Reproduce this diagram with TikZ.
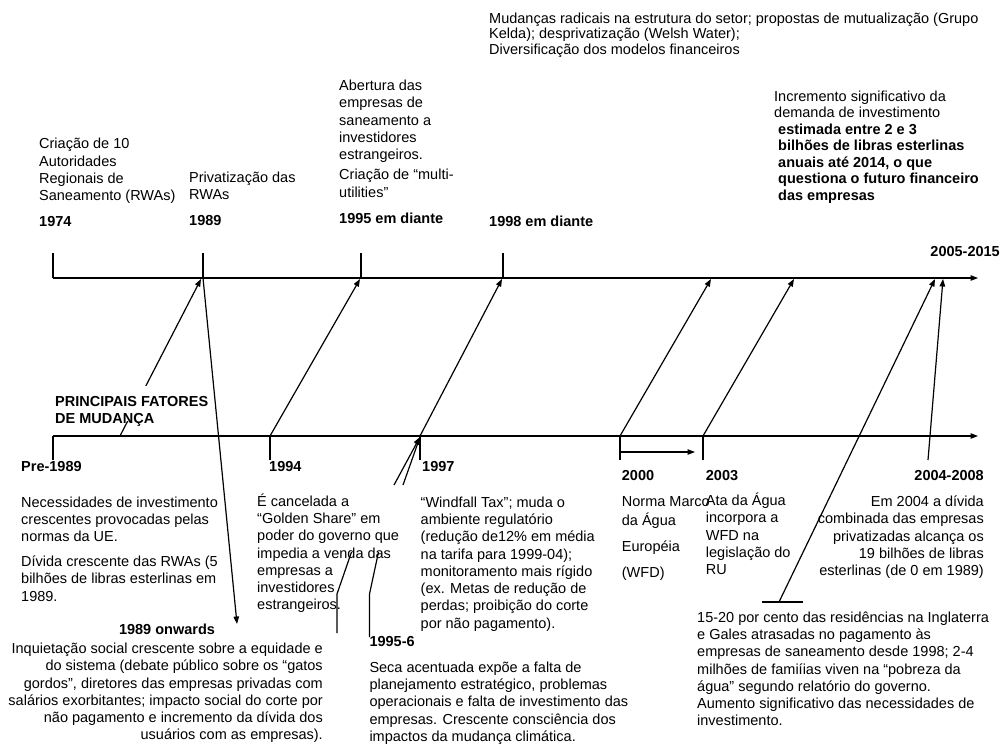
\documentclass[tikz,border=0pt]{standalone}
\usepackage{fontspec}
\setmainfont{Liberation Sans}
\usetikzlibrary{arrows.meta}
\newcommand{\bodyfont}{\fontsize{14.5}{17.3}\selectfont}
\newcommand{\tightfont}{\fontsize{14.5}{15.5}\selectfont}
\newcommand{\incfont}{\fontsize{14.5}{16.5}\selectfont}
\tikzset{
  ln/.style={line width=1.2pt, black},
  arr/.style={ln, -{Triangle[length=7.5pt,width=5.5pt]}},
  blk/.style={inner sep=0pt, anchor=north west, align=left, font=\bodyfont},
  lbl/.style={inner sep=0pt, anchor=base west, font=\bodyfont\bfseries},
}
\begin{document}
\begin{tikzpicture}[x={(1pt,0)}, y={(0,-1pt)}]
\fill[white] (0,0) rectangle (1003,749);
\useasboundingbox (0,0) rectangle (1003,749);

% axes
\coordinate (TA0) at (53,278);  \coordinate (TA1) at (978,278);
\coordinate (BA0) at (53,436);  \coordinate (BA1) at (978,436);
\draw[arr] (TA0) -- (TA1);
\draw[arr] (BA0) -- (BA1);

% top ticks
\foreach \x/\n in {53/a,203/b,361/c,503/d}{
  \coordinate (tt\n) at (\x,253);
  \coordinate (tb\n) at (\x,278);
  \draw[ln] (tt\n) -- (tb\n);
}
% bottom ticks
\foreach \x/\n in {53/a,270/b,420/c,620/d,703/e}{
  \coordinate (bt\n) at (\x,436);
  \coordinate (bb\n) at (\x,460);
  \draw[ln] (bt\n) -- (bb\n);
}

% diagonal arrows bottom -> top
\coordinate (f0) at (120,436); \coordinate (f1) at (201,279);
\draw[arr] (f0) -- (f1);
\coordinate (d94) at (270,436); \coordinate (u95) at (360,279);
\draw[arr] (d94) -- (u95);
\coordinate (d97) at (420,436); \coordinate (u98) at (502,279);
\draw[arr] (d97) -- (u98);
\coordinate (d00) at (620,436); \coordinate (u00) at (711,279);
\draw[arr] (d00) -- (u00);
\coordinate (d03) at (703,436); \coordinate (u03) at (794,279);
\draw[arr] (d03) -- (u03);
\coordinate (s0) at (779,602); \coordinate (s1) at (935,279);
\draw[arr] (s0) -- (s1);
\coordinate (g0) at (928,460); \coordinate (g1) at (943,279);
\draw[arr] (g0) -- (g1);

% bar under 15-20 line
\coordinate (bar0) at (762,602); \coordinate (bar1) at (803,602);
\draw[ln] (bar0) -- (bar1);

% 2000 small arrow
\coordinate (h0) at (620,452); \coordinate (h1) at (695,452);
\draw[arr] (h0) -- (h1);

% 1995-6 connectors (visible parts)
\coordinate (p1a) at (337,633); \coordinate (p1b) at (337,594); \coordinate (p1c) at (351.5,552);
\draw[ln] (p1a) -- (p1b) -- (p1c);
\coordinate (p2a) at (369.5,637); \coordinate (p2b) at (369.5,594); \coordinate (p2c) at (378.5,552);
\draw[ln] (p2a) -- (p2b) -- (p2c);
\coordinate (q1) at (394,485); \coordinate (q2) at (403,485); \coordinate (q0) at (420,437);
\draw[arr] (q1) -- (q0);
\draw[arr] (q2) -- (q0);

% principais fatores (masks the line behind it)
\fill[white] (54,386) rectangle (211,421);
\node[lbl, anchor=north west, align=left] (fatores) at (55,393.8) {\strut PRINCIPAIS FATORES\\DE MUDANÇA};

% 1989 down arrow
\coordinate (dn0) at (203,278); \coordinate (dn1) at (237,624);
\draw[arr] (dn0) -- (dn1);

% ---- top texts
\node[blk] (t1974) at (39,136.4) {\strut Criação de 10\\Autoridades\\Regionais de\\Saneamento (RWAs)};
\node[lbl] (y1974) at (39,226.9) {1974};
\node[blk] (t1989) at (189,169.8) {\strut Privatização das\\RWAs};
\node[lbl] (y1989) at (189,225.2) {1989};
\node[blk] (t1995) at (339,78.1) {\strut Abertura das\\empresas de\\saneamento a\\investidores\\estrangeiros.\\[3pt]Criação de “multi-\\utilities”};
\node[lbl] (y1995) at (339,223.5) {1995 em diante};
\node[lbl] (y1998) at (489,226.9) {1998 em diante};
\node[blk, font=\tightfont] (t1998) at (489,12.3) {\strut Mudanças radicais na estrutura do setor; propostas de mutualização (Grupo\\Kelda); desprivatização (Welsh Water);\\Diversificação dos modelos financeiros};
\node[blk, font=\incfont] (t2005) at (774,89.6) {\strut Incremento significativo da\\demanda de investimento\\\textbf{\ estimada entre 2 e 3}\\\textbf{\ bilhões de libras esterlinas}\\\textbf{\ anuais até 2014, o que}\\\textbf{\ questiona o futuro financeiro}\\\textbf{\ das empresas}};
\node[lbl, anchor=base east] (y2005) at (1000,256.2) {2005-2015};

% ---- bottom texts
\node[lbl] (ypre) at (21,471.9) {Pre-1989};
\node[blk] (tpre) at (21,494.8) {\strut Necessidades de investimento\\crescentes provocadas pelas\\normas da UE.\\[7.5pt]Dívida crescente das RWAs (5\\bilhões de libras esterlinas em\\1989.};
\node[lbl, anchor=base] (yon) at (167,634.2) {1989 onwards};
\node[blk, anchor=north east, align=right] (ton) at (323,641.1) {\strut Inquietação social crescente sobre a equidade e\\do sistema (debate público sobre os “gatos\\gordos”, diretores das empresas privadas com\\salários exorbitantes; impacto social do corte por\\não pagamento e incremento da dívida dos\\usuários com as empresas).};
\node[lbl] (y1994) at (269,471.9) {1994};
\node[blk] (t1994) at (257,493.4) {\strut É cancelada a\\“Golden Share” em\\poder do governo que\\impedia a venda das\\empresas a\\investidores\\estrangeiros.};
\node[lbl] (y1997) at (422,471.9) {1997};
\node[blk] (t1997) at (420.5,494.8) {\strut “Windfall Tax”; muda o\\ambiente regulatório\\(redução de12\% em média\\na tarifa para 1999-04);\\monitoramento mais rígido\\(ex. Metas de redução de\\perdas; proibição do corte\\por não pagamento).};
\node[lbl] (y1956) at (369.3,646.9) {1995-6};
\node[blk] (t1956) at (369.3,659.8) {\strut Seca acentuada expõe a falta de\\planejamento estratégico, problemas\\operacionais e falta de investimento das\\empresas. Crescente consciência dos\\impactos da mudança climática.};
\node[lbl] (y2000) at (621.7,480.2) {2000};
\node[blk] (t2000) at (621.7,494.1) {\strut Norma Marco\\da Água\\[9pt]Européia\\[9pt](WFD)};
\node[lbl] (y2003) at (705.7,480.2) {2003};
\node[blk] (t2003) at (705.7,492.7) {\strut Ata da Água\\incorpora a\\WFD na\\legislação do\\RU};
\node[lbl, anchor=base east] (y2004) at (984,480.2) {2004-2008};
\node[blk, anchor=north east, align=right] (t2004) at (984,494.1) {\strut Em 2004 a dívida\\combinada das empresas\\privatizadas alcança os\\19 bilhões de libras\\esterlinas (de 0 em 1989)};
\node[blk] (t1520) at (697,609.8) {\strut 15-20 por cento das residências na Inglaterra\\e Gales atrasadas no pagamento às\\empresas de saneamento desde 1998; 2-4\\milhões de famiíias viven na “pobreza da\\água” segundo relatório do governo.\\Aumento significativo das necessidades de\\investimento.};
\end{tikzpicture}
\end{document}
